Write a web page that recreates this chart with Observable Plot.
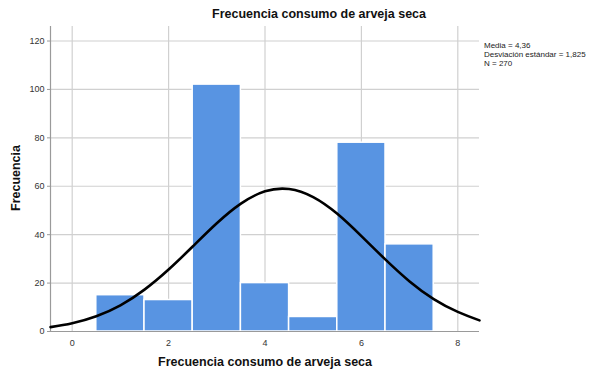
<!DOCTYPE html>
<html>
<head>
<meta charset="utf-8">
<script src="https://cdn.jsdelivr.net/npm/d3@7"></script>
<script src="https://cdn.jsdelivr.net/npm/@observablehq/plot@0.6"></script>
<style>
  html, body { margin: 0; padding: 0; background: #fff; }
  #wrap { position: relative; width: 592px; height: 370px; font-family: "Liberation Sans", Arial, sans-serif; }
  .t { position: absolute; white-space: nowrap; color: #111; }
</style>
</head>
<body>
<div id="wrap">
  <div class="t" id="title" style="left:319px; top:7px; transform:translateX(-50%); font-size:12.5px; font-weight:bold;">Frecuencia consumo de arveja seca</div>
  <div class="t" id="xlab" style="left:265px; top:355px; transform:translateX(-50%); font-size:12.5px; font-weight:bold;">Frecuencia consumo de arveja seca</div>
  <div class="t" id="ylab" style="left:16px; top:178px; transform:translate(-50%,-50%) rotate(-90deg); font-size:12.5px; font-weight:bold;">Frecuencia</div>
  <div class="t" id="stats" style="left:484px; top:41px; font-size:8px; line-height:9px; color:#222;"></div>
</div>
<script>
// Histogram bins (center value) and counts
const categories = [1, 2, 3, 4, 5, 6, 7];
const counts = [15, 13, 102, 20, 6, 78, 36];
// Normal curve
const curveX = [-0.45, 0, 0.5, 1, 1.5, 2, 2.5, 3, 3.5, 4, 4.5, 5, 5.5, 6, 6.5, 7, 7.5, 8, 8.45];
const curveY = [1.8, 3.4, 6.3, 10.8, 17.3, 25.6, 35.1, 44.7, 52.8, 57.9, 58.85, 55.5, 48.6, 39.4, 29.7, 20.7, 13.4, 8.1, 4.6];
const xTicks = [0, 2, 4, 6, 8];
const yTicks = [0, 20, 40, 60, 80, 100, 120];
const statsLines = ["Media = 4,36", "Desviación estándar = 1,825", "N = 270"];

document.getElementById("stats").innerHTML = statsLines.join("<br>");

const bars = categories.map((c, i) => ({x1: c - 0.5, x2: c + 0.5, y: counts[i]}));
const curve = curveX.map((x, i) => ({x, y: curveY[i]}));

const plot = Plot.plot({
  width: 592,
  height: 370,
  marginLeft: 50,
  marginRight: 113,
  marginTop: 26,
  marginBottom: 39,
  style: {fontFamily: "'Liberation Sans', Arial, sans-serif", fontSize: "9px", color: "#333", background: "transparent"},
  x: {domain: [-0.45, 8.45], ticks: xTicks, label: null, tickSize: 0, tickPadding: 8},
  y: {domain: [0, 126], ticks: yTicks, label: null, tickSize: 3, tickPadding: 3},
  marks: [
    Plot.gridX(xTicks, {stroke: "#d0d0d0", strokeOpacity: 1, strokeWidth: 1.2}),
    Plot.gridY(yTicks.filter(d => d > 0), {stroke: "#d0d0d0", strokeOpacity: 1, strokeWidth: 1.2}),
    Plot.rectY(bars, {x1: "x1", x2: "x2", y: "y", fill: "#5894E2", stroke: "#ffffff", strokeWidth: 1.5}),
    Plot.ruleY([0], {stroke: "#9a9a9a", strokeWidth: 1.2}),
    Plot.ruleX([-0.45], {stroke: "#9a9a9a", strokeWidth: 1.2}),
    Plot.line(curve, {x: "x", y: "y", curve: "natural", stroke: "#000", strokeWidth: 2.6}),
    Plot.axisX({ticks: xTicks, tickSize: 0, tickPadding: 8, label: null}),
    Plot.axisY({ticks: yTicks, tickSize: 3, tickPadding: 3, label: null, stroke: "#9a9a9a"})
  ]
});
plot.style.position = "absolute";
plot.style.left = "0";
plot.style.top = "0";
document.getElementById("wrap").prepend(plot);
</script>
</body>
</html>
